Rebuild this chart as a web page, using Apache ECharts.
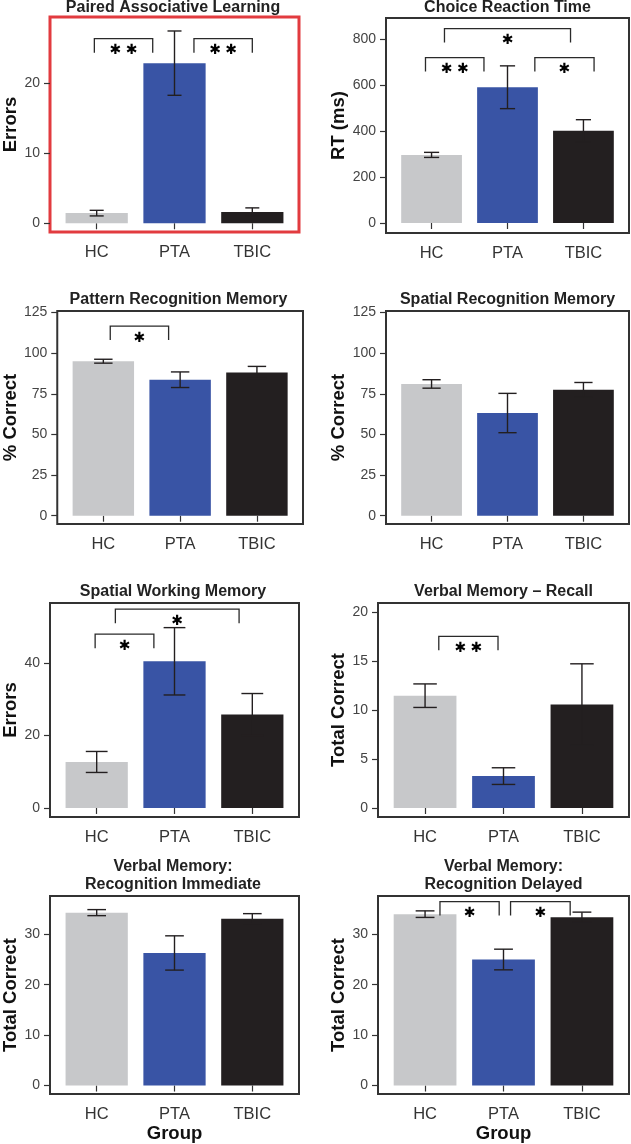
<!DOCTYPE html>
<html>
<head>
<meta charset="utf-8">
<script src="https://cdn.jsdelivr.net/npm/echarts@6/dist/echarts.min.js"></script>
<style>
  html, body { margin: 0; padding: 0; background: #fff; }
  #chart { width: 631px; height: 1144px; }
</style>
</head>
<body>
<div id="chart"></div>
<script>
// groups on the x axis
const groups = ["HC", "PTA", "TBIC"];

// means and standard errors
const palMeans = [1.45, 22.9, 1.6];
const palErr = [0.4, 4.6, 0.6];
const crtMeans = [296, 590, 401];
const crtErr = [11, 93, 48];
const prmMeans = [95.1, 83.7, 88.2];
const prmErr = [1.2, 4.8, 3.7];
const srmMeans = [81.1, 63.2, 77.5];
const srmErr = [2.6, 12.1, 4.5];
const swmMeans = [12.7, 40.5, 25.8];
const swmErr = [2.9, 9.3, 5.8];
const recallMeans = [11.45, 3.25, 10.55];
const recallErr = [1.2, 0.85, 4.15];
const immMeans = [34.3, 26.3, 33.1];
const immErr = [0.6, 3.4, 1.0];
const delMeans = [34.0, 25.0, 33.4];
const delErr = [0.65, 2.05, 1.0];

// y tick labels
const palTicks = [0, 10, 20];
const crtTicks = [0, 200, 400, 600, 800];
const prmTicks = [0, 25, 50, 75, 100, 125];
const srmTicks = [0, 25, 50, 75, 100, 125];
const swmTicks = [0, 20, 40];
const recallTicks = [0, 5, 10, 15, 20];
const immTicks = [0, 10, 20, 30];
const delTicks = [0, 10, 20, 30];

// significance brackets: [from x, to x, height, number of stars]
const palBrackets = [[0.97, 1.72, 26.4, 2], [2.25, 3.0, 26.4, 2]];
const crtBrackets = [[1.17, 2.83, 845, 1], [0.92, 1.69, 719, 2], [2.36, 3.14, 719, 1]];
const prmBrackets = [[1.09, 1.85, 116.7, 1]];
const srmBrackets = [];
const swmBrackets = [[1.24, 2.83, 54.9, 1], [0.98, 1.735, 48, 1]];
const recallBrackets = [[1.175, 1.93, 17.5, 2]];
const immBrackets = [];
const delBrackets = [[1.19, 1.945, 36.5, 1], [2.09, 2.85, 36.5, 1]];

const FONT = "'Liberation Sans', Arial, Helvetica, sans-serif";
const barColors = ["#c7c8ca", "#3954a5", "#231f20"];

const panels = [
  { title: "Paired Associative Learning", yName: "Errors", means: palMeans, errs: palErr, ticks: palTicks, brackets: palBrackets,
    yMin: -1.25, yMax: 29.5, box: [47, 17, 252, 215], titleTop: -1, nameGap: 30, cap: 0.09, border: "#e23b3f", bw: 3 },
  { title: "Choice Reaction Time", yName: "RT (ms)", means: crtMeans, errs: crtErr, ticks: crtTicks, brackets: crtBrackets,
    yMin: -43.5, yMax: 891, box: [386, 18, 243, 215], titleTop: -1, nameGap: 36, cap: 0.1 },
  { title: "Pattern Recognition Memory", yName: "% Correct", means: prmMeans, errs: prmErr, ticks: prmTicks, brackets: prmBrackets,
    yMin: -5.1, yMax: 126, box: [54, 311, 249, 213], titleTop: 290.5, nameGap: 36, cap: 0.12 },
  { title: "Spatial Recognition Memory", yName: "% Correct", means: srmMeans, errs: srmErr, ticks: srmTicks, brackets: srmBrackets,
    yMin: -5.1, yMax: 126, box: [386, 311, 243, 213], titleTop: 290.5, nameGap: 36, cap: 0.12 },
  { title: "Spatial Working Memory", yName: "Errors", means: swmMeans, errs: swmErr, ticks: swmTicks, brackets: swmBrackets,
    yMin: -2.5, yMax: 56.6, box: [47, 603, 252, 214], titleTop: 583, nameGap: 30, cap: 0.14 },
  { title: "Verbal Memory \u2013 Recall", yName: "Total Correct", means: recallMeans, errs: recallErr, ticks: recallTicks, brackets: recallBrackets,
    yMin: -0.92, yMax: 20.9, box: [378, 603, 251, 214], titleTop: 583, nameGap: 29, cap: 0.15 },
  { title: "Verbal Memory:\nRecognition Immediate", yName: "Total Correct", means: immMeans, errs: immErr, ticks: immTicks, brackets: immBrackets,
    yMin: -1.7, yMax: 37.6, box: [47, 896, 252, 200], titleTop: 858, nameGap: 30, cap: 0.12, xName: "Group" },
  { title: "Verbal Memory:\nRecognition Delayed", yName: "Total Correct", means: delMeans, errs: delErr, ticks: delTicks, brackets: delBrackets,
    yMin: -1.7, yMax: 37.6, box: [378, 896, 251, 200], titleTop: 858, nameGap: 29, cap: 0.12, xName: "Group" }
];

function barItem(cap) {
  return function (params, api) {
    const x = api.value(0), v = api.value(1), e = api.value(2);
    const p0 = api.coord([x - 0.4, v]);
    const p1 = api.coord([x + 0.4, 0]);
    const top = api.coord([x, v + e]);
    const bot = api.coord([x, v - e]);
    const cl = api.coord([x - cap, v])[0];
    const cr = api.coord([x + cap, v])[0];
    const line = { stroke: "#231f20", lineWidth: 1.4 };
    return {
      type: "group",
      children: [
        { type: "rect", shape: { x: p0[0], y: p0[1], width: p1[0] - p0[0], height: p1[1] - p0[1] },
          style: { fill: barColors[params.dataIndex] } },
        { type: "line", shape: { x1: top[0], y1: top[1], x2: bot[0], y2: bot[1] }, style: line },
        { type: "line", shape: { x1: cl, y1: top[1], x2: cr, y2: top[1] }, style: line },
        { type: "line", shape: { x1: cl, y1: bot[1], x2: cr, y2: bot[1] }, style: line }
      ]
    };
  };
}

function bracketItem(params, api) {
  const a = api.coord([api.value(0), api.value(2)]);
  const b = api.coord([api.value(1), api.value(2)]);
  const n = api.value(3);
  const leg = 14;
  return {
    type: "group",
    children: [
      { type: "polyline", shape: { points: [[a[0], a[1] + leg], a, b, [b[0], b[1] + leg]] },
        style: { stroke: "#2a2a2a", lineWidth: 1.3, fill: null } },
      { type: "text", x: (a[0] + b[0]) / 2, y: a[1] + 12,
        style: { text: Array(n).fill("\u2731").join(" "), fontSize: 14, fontFamily: "'DejaVu Sans', sans-serif",
                 fill: "#000", align: "center", verticalAlign: "middle" } }
    ]
  };
}

const option = {
  backgroundColor: "#fff",
  animation: false,
  title: [],
  grid: [],
  xAxis: [],
  yAxis: [],
  series: []
};

panels.forEach((p, i) => {
  const [left, top, width, height] = p.box;
  option.title.push({
    text: p.title,
    left: left + width / 2,
    top: p.titleTop,
    textAlign: "center",
    padding: 0,
    textStyle: { fontFamily: FONT, fontSize: 16, fontWeight: "bold", color: "#222", lineHeight: 18 }
  });
  option.grid.push({
    left, top, width, height,
    show: true,
    backgroundColor: "#fff",
    borderColor: p.border || "#333",
    borderWidth: p.bw || 2
  });
  option.xAxis.push({
    gridIndex: i,
    type: "value",
    min: 0.4,
    max: 3.6,
    axisLine: { show: false },
    splitLine: { show: false },
    axisTick: { show: true, length: 6, customValues: [1, 2, 3], lineStyle: { color: "#333", width: 1.2 } },
    axisLabel: {
      customValues: [1, 2, 3],
      formatter: (v) => groups[Math.round(v) - 1],
      margin: 12, fontSize: 16.5, color: "#333", fontFamily: FONT
    },
    name: p.xName || "",
    nameLocation: "middle",
    nameGap: 28,
    nameTextStyle: { fontSize: 18.5, fontWeight: "bold", color: "#111", fontFamily: FONT }
  });
  option.yAxis.push({
    gridIndex: i,
    type: "value",
    min: p.yMin,
    max: p.yMax,
    axisLine: { show: false },
    splitLine: { show: false },
    axisTick: { show: true, length: 6, customValues: p.ticks, lineStyle: { color: "#333", width: 1.2 } },
    axisLabel: { customValues: p.ticks, margin: 10, fontSize: 14, color: "#444", fontFamily: FONT },
    name: p.yName,
    nameLocation: "middle",
    nameGap: p.nameGap,
    nameTextStyle: { fontSize: 18.5, fontWeight: "bold", color: "#111", fontFamily: FONT }
  });
  option.series.push({
    type: "custom",
    xAxisIndex: i,
    yAxisIndex: i,
    clip: false,
    renderItem: barItem(p.cap),
    encode: { x: 0, y: 1 },
    data: p.means.map((m, k) => [k + 1, m, p.errs[k]])
  });
  if (p.brackets.length) {
    option.series.push({
      type: "custom",
      xAxisIndex: i,
      yAxisIndex: i,
      clip: false,
      z: 5,
      renderItem: bracketItem,
      encode: { x: [0, 1], y: 2 },
      data: p.brackets
    });
  }
});

const chart = echarts.init(document.getElementById("chart"), null, { renderer: "canvas" });
chart.setOption(option);
</script>
</body>
</html>
